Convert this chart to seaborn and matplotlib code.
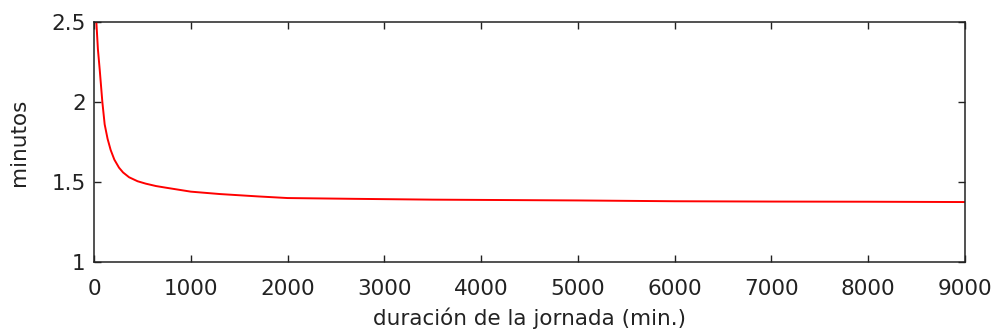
import matplotlib
matplotlib.use("Agg")
import matplotlib.pyplot as plt
import seaborn as sns
import pandas as pd

# Duración de la jornada (min.) y tiempo medio resultante (minutos)
duracion = [24, 40, 59, 86, 110, 140, 172, 210, 258, 300, 362, 450, 534, 640,
            740, 1000, 1300, 1700, 2000, 2700, 3500, 5000, 6000, 7000, 8000, 9000]
minutos = [2.5, 2.33, 2.2, 2.0, 1.86, 1.77, 1.70, 1.64, 1.59, 1.56, 1.53, 1.505,
           1.49, 1.475, 1.465, 1.44, 1.425, 1.41, 1.40, 1.395, 1.39, 1.385, 1.38,
           1.378, 1.377, 1.375]

x_ticks = [0, 1000, 2000, 3000, 4000, 5000, 6000, 7000, 8000, 9000]
y_ticks = [1, 1.5, 2, 2.5]
y_tick_labels = ["1", "1.5", "2", "2.5"]

sns.set_theme(style="white")
plt.rcParams["font.family"] = ["DejaVu Sans"]

df = pd.DataFrame({"duracion": duracion, "minutos": minutos})

fig = plt.figure(figsize=(9.94, 3.33), dpi=100)
ax = fig.add_axes([0.0946, 0.213, 0.876, 0.721])

sns.lineplot(data=df, x="duracion", y="minutos", color="#ff0000",
             linewidth=1.4, ax=ax)

ax.set_xlim(0, 9000)
ax.set_ylim(1, 2.5)
ax.set_xticks(x_ticks)
ax.set_xticklabels([str(t) for t in x_ticks])
ax.set_yticks(y_ticks)
ax.set_yticklabels(y_tick_labels)

ax.set_xlabel("duración de la jornada (min.)", fontsize=15.5, color="#222222",
              labelpad=6)
ax.set_ylabel("minutos", fontsize=15.5, color="#222222", labelpad=16)

ax.tick_params(axis="both", which="both", direction="in", length=5, width=1,
               color="#222222", labelsize=15.5, labelcolor="#222222",
               top=True, right=True, bottom=True, left=True)
ax.tick_params(axis="x", pad=12)
ax.tick_params(axis="y", pad=6)
for spine in ax.spines.values():
    spine.set_visible(True)
    spine.set_color("#222222")
    spine.set_linewidth(1.1)

fig.savefig("out.png", dpi=100, facecolor="white")
